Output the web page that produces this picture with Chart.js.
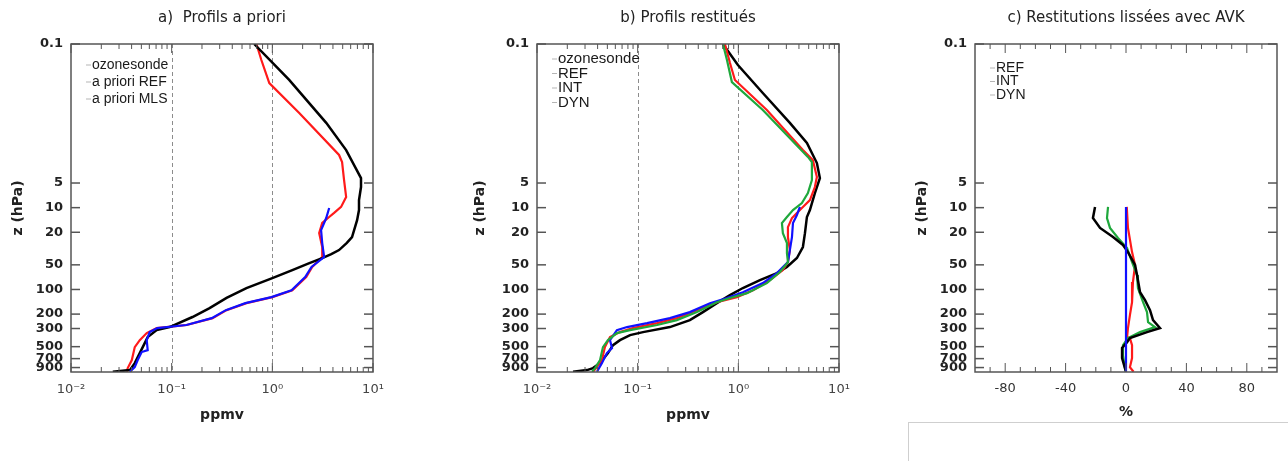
<!DOCTYPE html>
<html>
<head>
<meta charset="utf-8">
<script src="https://cdn.jsdelivr.net/npm/chart.js@4/dist/chart.umd.min.js"></script>
<style>
  html, body { margin: 0; padding: 0; background: #fff; }
  body { width: 1288px; height: 461px; position: relative; overflow: hidden; }
  canvas { position: absolute; top: 0; }
  #box { position: absolute; left: 908px; top: 422px; width: 420px; height: 60px; border: 1px solid #cfcfcf; }
</style>
</head>
<body>
<canvas id="pa" width="430" height="461" style="left:0"></canvas>
<canvas id="pb" width="440" height="461" style="left:430px"></canvas>
<canvas id="pc" width="418" height="461" style="left:870px"></canvas>
<div id="box"></div>
<script>
// --- tick values / labels ---
const pressureTicks = [0.1, 5, 10, 20, 50, 100, 200, 300, 500, 700, 900];
const ppmvTicks = [0.01, 0.1, 1, 10];
const ppmvTickLabels = ['10⁻²', '10⁻¹', '10⁰', '10¹'];
const ppmvMinorTicks = [0.02, 0.03, 0.04, 0.05, 0.06, 0.07, 0.08, 0.09,
  0.2, 0.3, 0.4, 0.5, 0.6, 0.7, 0.8, 0.9, 2, 3, 4, 5, 6, 7, 8, 9];
const ppmvGrid = [0.1, 1];
const pctTicks = [-80, -40, 0, 40, 80];
const pctMinorTicks = [-90, -70, -60, -50, -30, -20, -10, 10, 20, 30, 50, 60, 70, 90];

const titles = ['a)  Profils a priori', 'b) Profils restitués', 'c) Restitutions lissées avec AVK'];
const legendA = ['ozonesonde', 'a priori REF', 'a priori MLS'];
const legendB = ['ozonesonde', 'REF', 'INT', 'DYN'];
const legendC = ['REF', 'INT', 'DYN'];

// --- a) a priori profiles (hPa / ppmv) ---
const presA_sonde = [0.1, 0.275, 0.92, 1.98, 4.35, 5.6, 8.07, 10.7, 14.2, 22.9, 27, 33, 37, 41.3, 48, 58, 72.6, 96, 127, 169, 217, 288, 314, 382, 452, 599, 795, 967, 1013];
const ppmvA_sonde = [0.66, 1.47, 3.43, 5.41, 7.6, 7.6, 7.26, 7.26, 6.95, 6.19, 5.5, 4.6, 3.85, 3.13, 2.3, 1.58, 1.0, 0.553, 0.351, 0.238, 0.161, 0.0955, 0.071, 0.0578, 0.054, 0.0482, 0.043, 0.0384, 0.026];
const presA_ref = [0.1, 0.157, 0.30, 0.698, 2.27, 2.77, 4.6, 7.4, 9.8, 11.6, 13, 15.4, 20.5, 30.3, 40.2, 53, 70.5, 102, 124, 147, 179, 224, 272, 296, 341, 416, 506, 729, 914, 1013];
const ppmvA_ref = [0.695, 0.778, 0.933, 1.85, 4.6, 4.93, 5.16, 5.41, 4.82, 4.11, 3.67, 3.13, 2.92, 3.13, 3.13, 2.49, 2.17, 1.58, 1.0, 0.553, 0.351, 0.255, 0.141, 0.071, 0.0565, 0.0482, 0.043, 0.0402, 0.0366, 0.0358];
const presA_mls = [10.1, 13.4, 18.8, 27.1, 40.2, 53, 70.5, 102, 124, 147, 179, 224, 272, 296, 332, 416, 551, 582, 729, 889, 1013];
const ppmvA_mls = [3.67, 3.43, 3.05, 3.13, 3.27, 2.45, 2.12, 1.55, 0.98, 0.54, 0.345, 0.25, 0.14, 0.072, 0.0605, 0.0565, 0.0578, 0.0504, 0.046, 0.043, 0.0384];

// --- b) retrieved profiles ---
const presB_sonde = [0.1, 0.181, 0.397, 0.92, 1.62, 2.85, 4.35, 6.63, 10.7, 13, 20.5, 30.3, 41.3, 53, 63, 76.7, 96, 117, 147, 189, 237, 288, 332, 361, 416, 479, 599, 795, 914, 967, 1013];
const ppmvB_sonde = [0.703, 0.99, 1.75, 3.25, 4.8, 6.03, 6.46, 5.76, 5.14, 4.8, 4.59, 4.38, 3.82, 3.04, 2.42, 1.64, 1.11, 0.826, 0.612, 0.445, 0.330, 0.209, 0.113, 0.084, 0.0667, 0.0569, 0.0507, 0.0423, 0.036, 0.0314, 0.0228];
const presB_ref = [0.1, 0.171, 0.275, 0.641, 1.98, 2.62, 4.23, 5.6, 8.07, 9.8, 11.6, 13.4, 17.3, 22.9, 33, 46.3, 58, 76.7, 102, 124, 143, 179, 224, 258, 296, 332, 382, 506, 729, 889, 1013];
const ppmvB_ref = [0.736, 0.826, 0.925, 1.92, 4.38, 5.5, 6.03, 5.76, 5.14, 4.38, 3.82, 3.41, 3.11, 3.11, 3.25, 3.11, 2.77, 2.06, 1.40, 0.968, 0.612, 0.388, 0.245, 0.156, 0.0897, 0.0667, 0.0531, 0.0473, 0.0441, 0.0394, 0.036];
const presB_int = [9.8, 12.3, 15.4, 22.9, 33, 46.3, 63, 83.6, 108, 127, 147, 189, 224, 258, 288, 314, 416, 520, 599, 795, 1013];
const ppmvB_int = [4.09, 3.82, 3.49, 3.41, 3.25, 3.11, 2.42, 1.75, 1.11, 0.771, 0.523, 0.330, 0.209, 0.124, 0.0784, 0.0622, 0.0531, 0.0556, 0.0495, 0.0441, 0.0394];
const presB_dyn = [0.1, 0.157, 0.292, 0.641, 2.40, 2.77, 4.6, 6.63, 8.8, 10.7, 13, 15.4, 20.5, 27.1, 35.9, 46.3, 61.2, 83.6, 111, 127, 143, 189, 237, 272, 314, 341, 416, 506, 729, 914, 1013];
const ppmvB_dyn = [0.703, 0.771, 0.863, 1.75, 4.91, 5.38, 5.38, 4.91, 4.28, 3.49, 3.04, 2.71, 2.77, 3.04, 3.04, 3.11, 2.59, 1.92, 1.22, 0.826, 0.612, 0.388, 0.245, 0.156, 0.084, 0.0622, 0.0507, 0.0452, 0.0423, 0.0377, 0.0352];

// --- c) smoothed retrievals, relative difference (%) ---
const presC_sonde = [9.8, 13.4, 17.7, 22.9, 28.6, 34.9, 50.3, 66.7, 108, 135, 179, 237, 296, 332, 393, 440, 520, 690, 914, 1013];
const pctC_sonde = [-20.5, -21.9, -17.2, -8.6, -2, 1.3, 6, 7.3, 9.3, 12.6, 15.9, 17.9, 22.5, 13.9, 2.6, 0.7, -2.6, -2.6, -0.7, 0];
const presC_dyn = [9.8, 13.4, 17.7, 23.5, 31.2, 46.3, 66.7, 96, 143, 189, 251, 288, 332, 393, 479, 634, 914, 1013];
const pctC_dyn = [-11.9, -12.6, -10.6, -5.3, 0.7, 4, 7.3, 7.9, 11.3, 13.9, 14.6, 19.2, 9.3, 1.3, -2, -2, -0.7, 0];
const presC_ref = [9.8, 17.7, 34.9, 50.3, 81.3, 143, 206, 296, 382, 393, 479, 690, 889, 1013];
const pctC_ref = [0.5, 1.3, 4, 6, 4.6, 4, 2.6, 1.3, 0.7, 2.6, 4, 4, 2.6, 5];
const presC_int = [9.8, 1013];
const pctC_int = [0, 0];

const BLACK = '#000000', RED = '#ff1a1a', BLUE = '#1010ff', GREEN = '#1fa83c';

Chart.defaults.font.family = "'DejaVu Sans', sans-serif";

function series(label, xs, ps, color, width) {
  return {
    label,
    data: xs.map((x, i) => ({ x, y: ps[i] })),
    borderColor: color,
    borderWidth: width,
    showLine: true,
    pointRadius: 0,
    fill: false,
    tension: 0
  };
}

// frame, inward ticks and dashed verticals
function framePlugin(o) {
  return {
    id: 'frame',
    beforeDatasetsDraw(chart) {
      const { ctx, chartArea: a, scales: { x } } = chart;
      ctx.save();
      ctx.strokeStyle = '#8c8c8c';
      ctx.lineWidth = 1;
      ctx.setLineDash([4, 3]);
      (o.dashed || []).forEach(v => {
        const px = Math.round(x.getPixelForValue(v)) + 0.5;
        ctx.beginPath(); ctx.moveTo(px, a.top); ctx.lineTo(px, a.bottom); ctx.stroke();
      });
      ctx.restore();
    },
    afterDatasetsDraw(chart) {
      const { ctx, chartArea: a, scales: { x, y } } = chart;
      ctx.save();
      ctx.strokeStyle = '#555';
      ctx.lineWidth = 1.5;
      const seg = (x1, y1, x2, y2) => { ctx.beginPath(); ctx.moveTo(x1, y1); ctx.lineTo(x2, y2); ctx.stroke(); };
      pressureTicks.forEach(v => {
        const py = y.getPixelForValue(v);
        seg(a.left, py, a.left + 9, py);
        seg(a.right, py, a.right - 9, py);
      });
      ctx.lineWidth = 1;
      o.xMajor.forEach(v => {
        const px = x.getPixelForValue(v);
        seg(px, a.bottom, px, a.bottom - 9);
        seg(px, a.top, px, a.top + 9);
      });
      o.xMinor.forEach(v => {
        const px = x.getPixelForValue(v);
        seg(px, a.bottom, px, a.bottom - 5);
        seg(px, a.top, px, a.top + 5);
      });
      ctx.lineWidth = 1.5;
      ctx.strokeRect(a.left, a.top, a.right - a.left, a.bottom - a.top);
      ctx.restore();
    }
  };
}

function insetLegend(labels, top, gap, size) {
  return {
    id: 'insetLegend',
    afterDraw(chart) {
      const { ctx, chartArea: a } = chart;
      ctx.save();
      ctx.font = size + "px 'Liberation Sans', sans-serif";
      ctx.textBaseline = 'middle';
      labels.forEach((t, i) => {
        const x = a.left + 21, yy = a.top + top + i * gap;
        ctx.strokeStyle = '#b5b5b5';
        ctx.lineWidth = 1;
        ctx.beginPath(); ctx.moveTo(x - 6, yy); ctx.lineTo(x - 1, yy); ctx.stroke();
        ctx.fillStyle = '#1a1a1a';
        ctx.fillText(t, x, yy);
      });
      ctx.restore();
    }
  };
}

function pressureAxis(width, titlePad) {
  return {
    type: 'logarithmic', reverse: true, min: 0.1, max: 1020,
    afterBuildTicks: s => { s.ticks = pressureTicks.map(v => ({ value: v })); },
    afterFit: s => { s.width = width; },
    grid: { display: false, drawTicks: false },
    border: { display: false },
    ticks: { autoSkip: false, padding: 8, color: '#222', font: { size: 13, weight: 'bold' }, callback: v => String(v) },
    title: { display: true, text: 'z (hPa)', color: '#222', font: { size: 14, weight: 'bold', lineHeight: 1.2 }, padding: { top: titlePad, bottom: 0 } }
  };
}

function ppmvAxis() {
  return {
    type: 'logarithmic', min: 0.01, max: 10,
    afterBuildTicks: s => { s.ticks = ppmvTicks.map(v => ({ value: v })); },
    afterFit: s => { s.height = 89; },
    grid: { display: false, drawTicks: false },
    border: { display: false },
    ticks: { autoSkip: false, maxRotation: 0, padding: 10, color: '#444', font: { size: 13 }, callback: (v, i) => ppmvTickLabels[i] },
    title: { display: true, text: 'ppmv', color: '#222', font: { size: 14, weight: 'bold', lineHeight: 1.2 }, padding: { top: 0, bottom: 37 } }
  };
}

function pctAxis() {
  return {
    type: 'linear', min: -100, max: 100,
    afterBuildTicks: s => { s.ticks = pctTicks.map(v => ({ value: v })); },
    afterFit: s => { s.height = 89; },
    grid: { display: false, drawTicks: false },
    border: { display: false },
    ticks: { autoSkip: false, maxRotation: 0, padding: 9, color: '#333', font: { size: 13 } },
    title: { display: true, text: '%', color: '#222', font: { size: 14, weight: 'bold', lineHeight: 1.2 }, padding: { top: 0, bottom: 40 } }
  };
}

function makePanel(id, title, datasets, xAxis, yAxis, padRight, extra) {
  return new Chart(document.getElementById(id), {
    type: 'scatter',
    data: { datasets },
    options: {
      responsive: false,
      animation: false,
      events: [],
      layout: { padding: { left: 0, right: padRight, top: 0, bottom: 0 } },
      plugins: {
        legend: { display: false },
        tooltip: { enabled: false },
        title: {
          display: true, text: title, fullSize: false, color: '#222',
          font: { size: 15, weight: 'normal', lineHeight: 1 },
          padding: { top: 11, bottom: 18 }
        }
      },
      scales: { x: xAxis, y: yAxis }
    },
    plugins: extra
  });
}

// first dataset is drawn on top
makePanel('pa', titles[0], [
  series('a priori MLS', ppmvA_mls, presA_mls, BLUE, 2.2),
  series('ozonesonde', ppmvA_sonde, presA_sonde, BLACK, 2.5),
  series('a priori REF', ppmvA_ref, presA_ref, RED, 2.2)
], ppmvAxis(), pressureAxis(71, 9.6), 57, [
  framePlugin({ xMajor: ppmvTicks, xMinor: ppmvMinorTicks, dashed: ppmvGrid }),
  insetLegend(legendA, 21, 17, 14)
]);

makePanel('pb', titles[1], [
  series('DYN', ppmvB_dyn, presB_dyn, GREEN, 2.2),
  series('INT', ppmvB_int, presB_int, BLUE, 2.2),
  series('REF', ppmvB_ref, presB_ref, RED, 2.2),
  series('ozonesonde', ppmvB_sonde, presB_sonde, BLACK, 2.5)
], ppmvAxis(), pressureAxis(107, 41.6), 31, [
  framePlugin({ xMajor: ppmvTicks, xMinor: ppmvMinorTicks, dashed: ppmvGrid }),
  insetLegend(legendB, 15, 14.5, 15)
]);

makePanel('pc', titles[2], [
  series('INT', pctC_int, presC_int, BLUE, 2.2),
  series('ozonesonde', pctC_sonde, presC_sonde, BLACK, 2.5),
  series('DYN', pctC_dyn, presC_dyn, GREEN, 2.2),
  series('REF', pctC_ref, presC_ref, RED, 2.2)
], pctAxis(), pressureAxis(105, 43.6), 11, [
  framePlugin({ xMajor: pctTicks, xMinor: pctMinorTicks, dashed: [] }),
  insetLegend(legendC, 24, 13.5, 14)
]);
</script>
</body>
</html>
